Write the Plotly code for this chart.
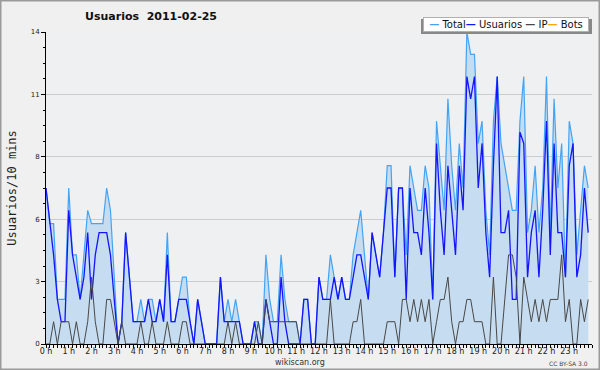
import plotly.graph_objects as go

# 10-minute slots over the day (144 slots)
total = [7, 5.4, 5.4, 2, 2, 2, 7, 4, 4, 2, 4, 6, 5.4, 5.4, 5.4, 5.4,
         7, 6, 3, 0, 1, 5, 3, 1, 1, 2, 1, 2, 2, 1, 2, 1,
         5, 1, 1, 2, 3, 3, 1, 0, 2, 1, 0, 0, 0, 0, 3, 1,
         2, 1, 2, 1, 0, 0, 0, 1, 1, 0, 4, 2, 1, 1, 4, 2,
         1, 1, 1, 0, 2, 2, 0, 0, 3, 2, 2, 4, 3, 2, 3, 2,
         2, 4, 5, 6, 4, 2, 5, 4, 3, 5, 8, 8, 3, 7, 7, 4,
         8, 7, 6, 6, 8, 7, 2, 10, 8, 6, 11, 8, 6, 9, 7, 14,
         13, 13, 9, 10, 6, 4, 10, 12, 9, 8, 7, 6, 6, 10, 12, 5,
         6, 8, 5, 7, 12, 5, 11, 7, 9, 3, 10, 9, 4, 6, 8, 7]
usuarios = [7, 5.4, 4, 2, 1, 1, 6, 4, 3, 2, 3, 5, 2, 4, 5, 5,
            5, 4, 2, 0, 1, 5, 3, 1, 1, 1, 1, 2, 1, 1, 2, 1,
            4, 1, 1, 2, 2, 2, 1, 0, 2, 1, 0, 0, 0, 0, 3, 1,
            1, 1, 1, 1, 0, 0, 0, 1, 0, 0, 2, 1, 0, 0, 3, 1,
            0, 0, 0, 0, 2, 2, 0, 0, 3, 2, 2, 2, 3, 2, 3, 2,
            2, 3, 4, 4, 3, 2, 5, 4, 3, 5, 7, 7, 3, 7, 7, 2,
            7, 5, 5, 4, 7, 5, 2, 9, 6, 4, 8, 6, 4, 8, 6, 12,
            11, 12, 7, 9, 5, 3, 8, 12, 5, 5, 6, 2, 2, 9.5, 9, 3,
            5, 6, 3, 6, 10, 4, 9, 5, 5, 3, 8, 9, 3, 4, 7, 5]
ip = [0, 0, 1, 0, 1, 1, 1, 0, 1, 0, 0, 1, 3, 1, 0, 0,
      2, 2, 1, 0, 1, 0, 0, 0, 0, 1, 0, 0, 1, 0, 0, 0,
      1, 0, 0, 0, 1, 1, 0, 0, 0, 0, 0, 0, 0, 0, 0, 0,
      1, 0, 1, 0, 0, 0, 0, 0, 1, 0, 2, 1, 1, 1, 1, 1,
      1, 1, 1, 0, 0, 0, 0, 0, 0, 0, 0, 2, 0, 0, 0, 0,
      0, 1, 1, 2, 0, 0, 0, 0, 0, 0, 1, 1, 1, 0, 2, 2,
      1, 2, 1, 2, 1, 2, 0, 1, 2, 2, 3, 1, 0, 1, 1, 2,
      2, 1, 1, 1, 0, 0, 3, 0, 0, 2, 4, 4, 3, 0, 3, 2,
      1, 2, 1, 2, 1, 2, 2, 2, 4, 1, 2, 0, 0, 2, 1, 2]
bots = [0] * 144

hours = [h for h in range(24)]
hour_labels = [f"{h} h" for h in hours]
y_tickvals = [0, 2.8, 5.6, 8.4, 11.2, 14]
y_ticktext = ["0", "3", "6", "8", "11", "14"]

slots = [i / 6 for i in range(len(total))]

c_total = "#44a4f4"
c_users = "#1414ff"
c_ip = "#484848"
c_bots = "#ffa500"

fig = go.Figure()
fig.add_trace(go.Scatter(x=slots, y=bots, mode="lines", name="Bots",
                         line=dict(color=c_bots, width=1), showlegend=False))
fig.add_trace(go.Scatter(x=slots, y=total, mode="lines", name="Total",
                         line=dict(color=c_total, width=1.2),
                         fill="tozeroy", fillcolor="#c6dcf0", showlegend=False))
fig.add_trace(go.Scatter(x=slots, y=usuarios, mode="lines", name="Usuarios",
                         line=dict(color=c_users, width=1.3), showlegend=False))
fig.add_trace(go.Scatter(x=slots, y=ip, mode="lines", name="IP",
                         line=dict(color=c_ip, width=1), showlegend=False))

L, R, T, B = 46, 8, 32, 26
W, H = 600, 370
pw, ph = W - L - R, H - T - B


def px(x):
    return (x - L) / pw


def py(y):
    return (H - B - y) / ph


fig.update_layout(
    width=W, height=H,
    margin=dict(l=L, r=R, t=T, b=B, autoexpand=False),
    paper_bgcolor="#f0f0f0",
    plot_bgcolor="#eef0f2",
    font=dict(family="DejaVu Sans", size=8, color="#222"),
    title=dict(text="<b>Usuarios  2011-02-25</b>", x=151 / W, xref="container",
               xanchor="center", y=1 - 16 / H, yanchor="middle",
               font=dict(family="DejaVu Sans", size=11, color="#111")),
    xaxis=dict(range=[0, 24], tickmode="array", tickvals=hours, ticktext=hour_labels,
               showgrid=False, zeroline=False, showline=True, linecolor="black",
               linewidth=1, ticks="outside", ticklen=3, tickcolor="black",
               ticklabelstandoff=-4,
               tickfont=dict(family="DejaVu Sans", size=8, color="#222"),
               minor=dict(tickmode="linear", tick0=0, dtick=1 / 6, ticks="outside",
                          ticklen=3, tickcolor="black", showgrid=False),
               layer="above traces", fixedrange=True, automargin=False),
    yaxis=dict(range=[0, 14], tickmode="array", tickvals=y_tickvals, ticktext=y_ticktext,
               showgrid=True, gridcolor="#cccccc", gridwidth=1, zeroline=False,
               showline=True, linecolor="black", linewidth=1, ticks="outside",
               ticklen=4, tickcolor="black",
               tickfont=dict(family="DejaVu Sans", size=7, color="#222"),
               minor=dict(tickmode="linear", tick0=0, dtick=0.7, ticks="outside",
                          ticklen=2, tickcolor="black", showgrid=False),
               title=dict(text="Usuarios/10 mins", standoff=11,
                          font=dict(family="DejaVu Sans Mono", size=12, color="#222")),
               layer="above traces", fixedrange=True, automargin=False),
    showlegend=False,
)

legend_text = (f"<b><span style='color:{c_total}'>—</span></b> Total"
               f"<b><span style='color:{c_users}'>—</span></b> Usuarios "
               f"<b><span style='color:{c_ip}'>—</span></b> IP"
               f"<b><span style='color:{c_bots}'>—</span></b> Bots")

fig.add_shape(type="rect", xref="paper", yref="paper",
              x0=px(421), x1=px(592), y0=py(34), y1=py(19),
              fillcolor="#888888", line=dict(width=0), layer="above")
fig.add_annotation(text=legend_text, xref="paper", yref="paper",
                   x=px(589), y=py(17), xanchor="right", yanchor="top",
                   width=162, height=11, align="center",
                   showarrow=False, bgcolor="white", bordercolor="#b0b0b0",
                   borderwidth=1, borderpad=1,
                   font=dict(family="DejaVu Sans", size=10, color="#111"))
fig.add_annotation(text="wikiscan.org", xref="paper", yref="paper",
                   x=px(300), y=py(362), xanchor="center", yanchor="middle",
                   showarrow=False, font=dict(family="DejaVu Sans", size=8, color="#333"))
fig.add_annotation(text="CC BY-SA 3.0", xref="paper", yref="paper",
                   x=px(590), y=py(363), xanchor="right", yanchor="middle",
                   showarrow=False, font=dict(family="DejaVu Sans", size=6, color="#444"))
fig.add_shape(type="rect", xref="paper", yref="paper",
              x0=px(0.5), x1=px(599.5), y0=py(369.5), y1=py(0.5),
              line=dict(color="#9a9a9a", width=2), fillcolor="rgba(0,0,0,0)")

fig.write_html("out.html", config={"displayModeBar": False},
               post_script="document.body.style.margin='0px';")
